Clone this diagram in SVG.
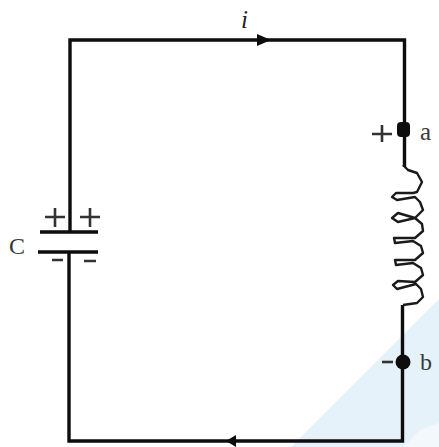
<svg xmlns="http://www.w3.org/2000/svg" width="439" height="447" viewBox="0 0 439 447">
<style>
.w{fill:none;stroke:#0d0d0d;stroke-width:3.400}
.c{fill:none;stroke:#1a1a1a;stroke-width:2.400;stroke-linejoin:round}
.p{fill:none;stroke:#333;stroke-width:2.600}
.t{font-family:"Liberation Serif","DejaVu Serif",serif;fill:#3a3a3a}
.h{fill:#0d0d0d}
</style>
<rect width="439" height="447" fill="#fff"/>
<polygon points="439,299 439,447 291,447" fill="#e6f2fa"/>
<polygon points="439,423 439,447 403,447 420,430" fill="#f3f8fc"/>
<g id="connectors">
<path class="w" d="M70 232V40H404.500V167"/>
<path class="w" d="M69 252V441H402.500V305"/>
<path class="h" d="M257 34L271 40L257 46Z"/>
<path class="h" d="M226 441L236 435V447Z"/>
</g>
<g id="capacitor">
<path class="w" d="M40 232H98M38 252H98"/>
<path class="p" d="M45 217H65M55 208V227M80 217H100M90 208V227"/>
<path class="p" d="M52 260H63M84 261H96"/>
<text class="t" x="9" y="254" font-size="24">C</text>
</g>
<g id="inductor">
<path class="c" d="M403 165L408 170L417 173L422 182L417 192L413 193H396L392 197L397 200L415 197L420 202L423 210L415 218L398 213L392 218L398 222L415 218L422 224L423 231L415 238H394L395 243L413 241L421 246L423 253L415 260H395L396 265L413 263L421 268L423 275L415 282L398 281L393 285L397 289L416 284L421 289L423 297L417 303L403 305"/>
</g>
<g id="terminal-a">
<rect class="h" x="397" y="122" width="13" height="15" rx="4"/>
<path class="p" d="M372 134H392M382 125V142"/>
<text class="t" x="420" y="140" font-size="25">a</text>
</g>
<g id="terminal-b">
<circle class="h" cx="403" cy="362" r="7.500"/>
<path class="p" d="M382 362H393"/>
<text class="t" x="420" y="370" font-size="24">b</text>
</g>
<g id="current-label">
<text class="t" x="241" y="28" font-size="25" font-style="italic" style="fill:#222">i</text>
</g>
</svg>
